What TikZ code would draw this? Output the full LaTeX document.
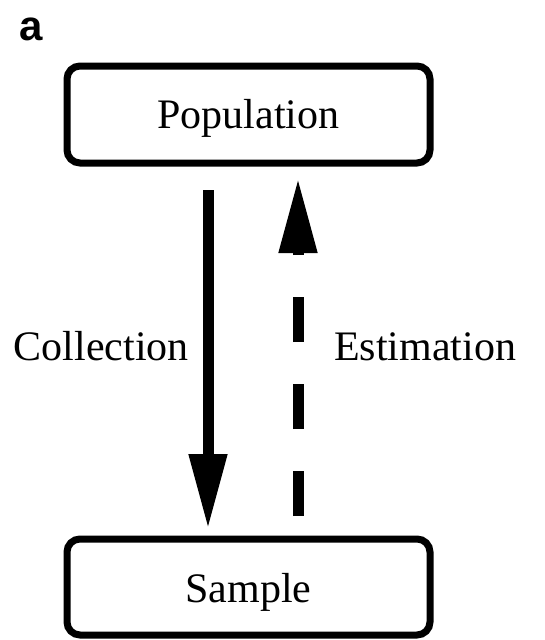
\documentclass[tikz,border=0pt]{standalone}
\usepackage{fontspec}
\setmainfont{Liberation Serif}
\newfontfamily\labelfont{Liberation Sans}
\usetikzlibrary{arrows.meta}
\begin{document}
\begin{tikzpicture}[x=1pt,y=-1pt,
  box/.style={draw=black, line width=7pt, rounded corners=13pt, outer sep=0pt, inner sep=0pt,
    minimum width=363pt, font=\fontsize{42}{50}\selectfont},
  txt/.style={font=\fontsize{42}{50}\selectfont, inner sep=0pt},
  conn/.style={line width=11pt, -{Triangle[length=75pt,width=36pt]}}
]
\useasboundingbox (0,0) rectangle (545,640);
\node[anchor=base west, inner sep=0pt, font=\labelfont\bfseries\fontsize{42}{50}\selectfont] (lbl) at (19,40) {a};
\node[box, minimum height=97pt, text height=34pt, text depth=7pt] (pop) at (248.5,114.5) {Population};
\node[box, minimum height=96pt, text height=36pt, text depth=6pt] (smp) at (248.5,587) {Sample};
\draw[conn, shorten <=27pt, shorten >=10pt] ([xshift=-40.5pt]pop.south) -- ([xshift=-40.5pt]smp.north);
\draw[conn, dash pattern=on 45pt off 42pt, shorten <=23pt, shorten >=15pt] ([xshift=49.5pt]smp.north) -- ([xshift=49.5pt]pop.south);
\node[txt, anchor=base east] (col) at (189,360) {Collection};
\node[txt, anchor=base west] (est) at (334,360) {Estimation};
\end{tikzpicture}
\end{document}
